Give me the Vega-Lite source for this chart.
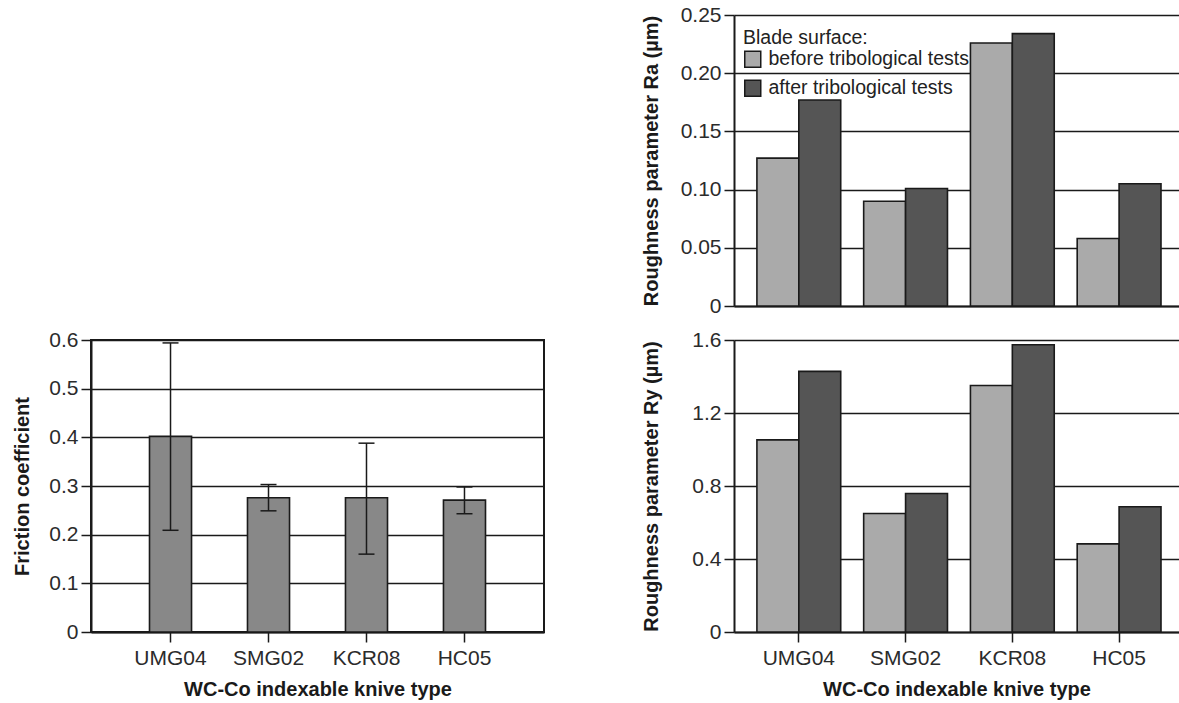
{
  "$schema": "https://vega.github.io/schema/vega-lite/v6.json",
  "background": "white",
  "padding": {"left": 11, "top": 4, "right": 0, "bottom": 2},
  "datasets": {
    "friction": [
      {"knife": "UMG04", "mean": 0.402, "low": 0.209, "high": 0.594},
      {"knife": "SMG02", "mean": 0.276, "low": 0.249, "high": 0.303},
      {"knife": "KCR08", "mean": 0.276, "low": 0.16, "high": 0.388},
      {"knife": "HC05", "mean": 0.271, "low": 0.243, "high": 0.298}
    ],
    "ra": [
      {"knife": "UMG04", "surface": "before tribological tests", "value": 0.127},
      {"knife": "UMG04", "surface": "after tribological tests", "value": 0.177},
      {"knife": "SMG02", "surface": "before tribological tests", "value": 0.09},
      {"knife": "SMG02", "surface": "after tribological tests", "value": 0.101},
      {"knife": "KCR08", "surface": "before tribological tests", "value": 0.226},
      {"knife": "KCR08", "surface": "after tribological tests", "value": 0.234},
      {"knife": "HC05", "surface": "before tribological tests", "value": 0.058},
      {"knife": "HC05", "surface": "after tribological tests", "value": 0.105}
    ],
    "ry": [
      {"knife": "UMG04", "surface": "before tribological tests", "value": 1.053},
      {"knife": "UMG04", "surface": "after tribological tests", "value": 1.428},
      {"knife": "SMG02", "surface": "before tribological tests", "value": 0.649},
      {"knife": "SMG02", "surface": "after tribological tests", "value": 0.759},
      {"knife": "KCR08", "surface": "before tribological tests", "value": 1.351},
      {"knife": "KCR08", "surface": "after tribological tests", "value": 1.574},
      {"knife": "HC05", "surface": "before tribological tests", "value": 0.483},
      {"knife": "HC05", "surface": "after tribological tests", "value": 0.686}
    ],
    "empty": []
  },
  "columns": 2,
  "bounds": "flush",
  "align": "each",
  "spacing": {"row": 34, "column": 190},
  "resolve": {
    "scale": {"x": "independent", "y": "independent", "color": "independent"},
    "legend": {"color": "independent"}
  },
  "config": {
    "font": "Liberation Sans",
    "view": {"stroke": null},
    "axis": {
      "labelFont": "Liberation Sans",
      "labelFontSize": 21,
      "labelColor": "#2b2b2b",
      "titleFont": "Liberation Sans",
      "titleFontSize": 20,
      "titleFontWeight": "bold",
      "titleColor": "#1a1a1a",
      "domainColor": "#1a1a1a",
      "domainWidth": 2,
      "tickColor": "#1a1a1a",
      "tickWidth": 1.5,
      "tickSize": 10,
      "gridColor": "#1a1a1a",
      "gridWidth": 1.5,
      "gridOpacity": 1,
      "labelPadding": 3
    },
    "axisX": {"grid": false, "labelAngle": 0, "labelPadding": 5, "titleY": 47.3, "titleBaseline": "top"},
    "axisY": {"grid": true, "titleAngle": 270, "titleBaseline": "alphabetic"}
  },
  "concat": [
    {
      "width": 453,
      "height": 291,
      "data": {"name": "empty"},
      "mark": {"type": "point", "opacity": 0},
      "encoding": {}
    },
    {
      "width": 445,
      "height": 291,
      "data": {"name": "ra"},
      "mark": {"type": "bar", "stroke": "#1a1a1a", "strokeWidth": 1.6},
      "encoding": {
        "x": {
          "field": "knife", "type": "nominal",
          "sort": ["UMG04", "SMG02", "KCR08", "HC05"],
          "scale": {"paddingInner": 0.215, "paddingOuter": 0.1916, "align": 0.56},
          "axis": {"labels": false, "ticks": false, "title": null, "domain": true}
        },
        "xOffset": {
          "field": "surface", "type": "nominal",
          "sort": ["before tribological tests", "after tribological tests"],
          "scale": {"paddingInner": 0, "paddingOuter": 0}
        },
        "y": {
          "field": "value", "type": "quantitative",
          "scale": {"domain": [0, 0.25], "nice": false},
          "axis": {
            "title": "Roughness parameter Ra (µm)",
            "values": [0, 0.05, 0.1, 0.15, 0.2, 0.25],
            "labelExpr": "datum.value === 0 ? '0' : format(datum.value, '.2f')",
            "titleX": -76.5
          }
        },
        "color": {
          "field": "surface", "type": "nominal",
          "sort": ["before tribological tests", "after tribological tests"],
          "scale": {"domain": ["before tribological tests", "after tribological tests"], "range": ["#aaaaaa", "#555555"]},
          "legend": {
            "orient": "none",
            "legendX": 9,
            "legendY": 14,
            "title": "Blade surface:",
            "titleFont": "Liberation Sans",
            "titleFontSize": 19.5,
            "titleFontWeight": "normal",
            "titleColor": "#222222",
            "titlePadding": 1,
            "titleLimit": 0,
            "labelFont": "Liberation Sans",
            "labelFontSize": 19.5,
            "labelColor": "#222222",
            "labelOffset": 6,
            "labelLimit": 0,
            "symbolType": "square",
            "symbolSize": 256,
            "symbolStrokeColor": "#1a1a1a",
            "symbolStrokeWidth": 1.5,
            "symbolOpacity": 1,
            "rowPadding": 6,
            "padding": 0
          }
        }
      }
    },
    {
      "width": 453,
      "height": 292,
      "data": {"name": "friction"},
      "view": {"stroke": "#1a1a1a", "strokeWidth": 2},
      "encoding": {
        "x": {
          "field": "knife", "type": "nominal",
          "sort": ["UMG04", "SMG02", "KCR08", "HC05"],
          "scale": {"paddingInner": 0.571, "paddingOuter": 0.597},
          "axis": {"title": "WC-Co indexable knive type"}
        }
      },
      "layer": [
        {
          "mark": {"type": "bar", "fill": "#888888", "stroke": "#1a1a1a", "strokeWidth": 1.6},
          "encoding": {
            "y": {
              "field": "mean", "type": "quantitative",
              "title": "Friction coefficient",
              "scale": {"domain": [0, 0.6], "nice": false},
              "axis": {
                "values": [0, 0.1, 0.2, 0.3, 0.4, 0.5, 0.6],
                "labelExpr": "datum.value === 0 ? '0' : format(datum.value, '.1f')",
                "titleX": -63
              }
            }
          }
        },
        {
          "mark": {"type": "rule", "color": "#1a1a1a", "strokeWidth": 1.5},
          "encoding": {
            "y": {"field": "low", "type": "quantitative", "title": "Friction coefficient"},
            "y2": {"field": "high"}
          }
        },
        {
          "mark": {"type": "tick", "color": "#1a1a1a", "thickness": 1.5, "size": 16, "opacity": 1},
          "encoding": {"y": {"field": "high", "type": "quantitative", "title": "Friction coefficient"}}
        },
        {
          "mark": {"type": "tick", "color": "#1a1a1a", "thickness": 1.5, "size": 16, "opacity": 1},
          "encoding": {"y": {"field": "low", "type": "quantitative", "title": "Friction coefficient"}}
        }
      ]
    },
    {
      "width": 445,
      "height": 292,
      "data": {"name": "ry"},
      "mark": {"type": "bar", "stroke": "#1a1a1a", "strokeWidth": 1.6},
      "encoding": {
        "x": {
          "field": "knife", "type": "nominal",
          "sort": ["UMG04", "SMG02", "KCR08", "HC05"],
          "scale": {"paddingInner": 0.215, "paddingOuter": 0.1916, "align": 0.56},
          "axis": {"title": "WC-Co indexable knive type"}
        },
        "xOffset": {
          "field": "surface", "type": "nominal",
          "sort": ["before tribological tests", "after tribological tests"],
          "scale": {"paddingInner": 0, "paddingOuter": 0}
        },
        "y": {
          "field": "value", "type": "quantitative",
          "scale": {"domain": [0, 1.6], "nice": false},
          "axis": {
            "title": "Roughness parameter Ry (µm)",
            "values": [0, 0.4, 0.8, 1.2, 1.6],
            "labelExpr": "datum.value === 0 ? '0' : format(datum.value, '.1f')",
            "titleX": -76.5
          }
        },
        "color": {
          "field": "surface", "type": "nominal",
          "sort": ["before tribological tests", "after tribological tests"],
          "scale": {"domain": ["before tribological tests", "after tribological tests"], "range": ["#aaaaaa", "#555555"]},
          "legend": null
        }
      }
    }
  ]
}
